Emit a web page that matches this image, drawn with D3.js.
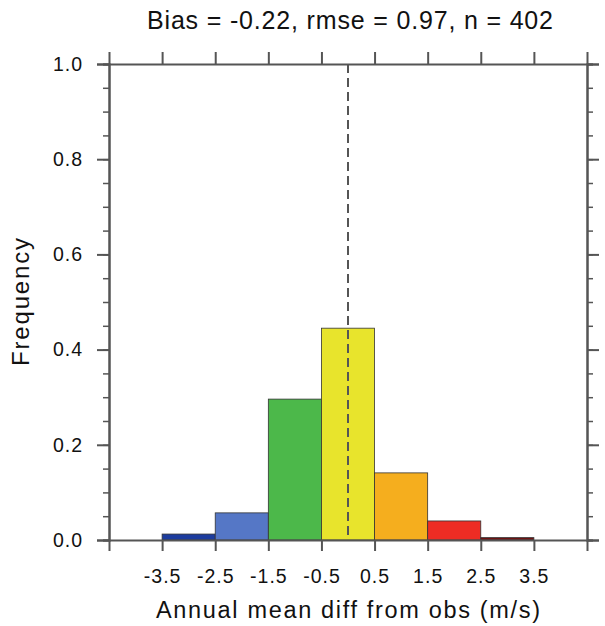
<!DOCTYPE html>
<html>
<head>
<meta charset="utf-8">
<script src="https://cdn.jsdelivr.net/npm/d3@7"></script>
<style>
  body { margin: 0; background: #fff; }
  text { font-family: "Liberation Sans", Arial, sans-serif; fill: #111; }
</style>
</head>
<body>
<svg id="chart" width="605" height="626"></svg>
<script>
// histogram bins (lower, upper edges) and relative frequency
const binLo = [-3.5, -2.5, -1.5, -0.5, 0.5, 1.5, 2.5];
const binHi = [-2.5, -1.5, -0.5, 0.5, 1.5, 2.5, 3.5];
const freq = [0.0125, 0.057, 0.296, 0.445, 0.141, 0.04, 0.005];
const binColors = ["#1c3c9e", "#5577c6", "#4cb84a", "#e8e42c", "#f5ae1e", "#ee2c24", "#6e1212"];

const xTicks = [-3.5, -2.5, -1.5, -0.5, 0.5, 1.5, 2.5, 3.5];
const yTicks = [0, 0.2, 0.4, 0.6, 0.8, 1.0];
const refLine = 0;

const title = "Bias = -0.22, rmse = 0.97, n = 402";
const xTitle = "Annual mean diff from obs (m/s)";
const yTitle = "Frequency";

const margin = { top: 64, right: 18, bottom: 86, left: 109 };
const W = 605, H = 626;
const svg = d3.select("#chart");

const x = d3.scaleLinear().domain([-4.5, 4.5]).range([margin.left, W - margin.right]);
const y = d3.scaleLinear().domain([0, 1]).range([H - margin.bottom, margin.top]);

const axisColor = "#555";
const fmt = d => d3.format(".1f")(d).replace("−", "-");

// bars
svg.append("g").selectAll("rect")
  .data(freq)
  .join("rect")
  .attr("x", (d, i) => x(binLo[i]))
  .attr("width", (d, i) => x(binHi[i]) - x(binLo[i]))
  .attr("y", d => y(d))
  .attr("height", d => y(0) - y(d))
  .attr("fill", (d, i) => binColors[i])
  .attr("stroke", "#333")
  .attr("stroke-width", 0.8);

// dashed reference line
svg.append("line")
  .attr("x1", x(refLine)).attr("x2", x(refLine))
  .attr("y1", y(1)).attr("y2", y(0))
  .attr("stroke", "#555")
  .attr("stroke-width", 2)
  .attr("stroke-dasharray", "9,5");

// axes
const minorY = d3.range(0, 1.0001, 0.05);

const leftAx = svg.append("g").attr("transform", `translate(${x(-4.5)},0)`)
  .call(d3.axisLeft(y).tickValues(yTicks).tickFormat(fmt).tickSize(12).tickPadding(14));
const leftMinor = svg.append("g").attr("transform", `translate(${x(-4.5)},0)`)
  .call(d3.axisLeft(y).tickValues(minorY).tickFormat("").tickSize(6));
const rightAx = svg.append("g").attr("transform", `translate(${x(4.5)},0)`)
  .call(d3.axisRight(y).tickValues(yTicks).tickFormat("").tickSize(12));
const rightMinor = svg.append("g").attr("transform", `translate(${x(4.5)},0)`)
  .call(d3.axisRight(y).tickValues(minorY).tickFormat("").tickSize(6));
const bottomAx = svg.append("g").attr("transform", `translate(0,${y(0)})`)
  .call(d3.axisBottom(x).tickValues(xTicks).tickFormat(fmt).tickSize(11).tickPadding(18));
const topAx = svg.append("g").attr("transform", `translate(0,${y(1)})`)
  .call(d3.axisTop(x).tickValues(xTicks).tickFormat("").tickSize(12));

[leftAx, leftMinor, rightAx, rightMinor, bottomAx, topAx].forEach(g => {
  g.selectAll("path.domain").attr("stroke", axisColor).attr("stroke-width", 2);
  g.selectAll(".tick line").attr("stroke", axisColor).attr("stroke-width", 1.5);
  g.selectAll(".tick text").style("font-size", "19.5px").attr("fill", "#111")
    .style("letter-spacing", "1px")
    .style("font-family", '"Liberation Sans", Arial, sans-serif');
});
[leftAx, rightAx, bottomAx, topAx].forEach(g => g.selectAll(".tick line").attr("stroke-width", 2));

// titles
svg.append("text")
  .attr("x", 350)
  .attr("y", 29)
  .attr("text-anchor", "middle")
  .attr("textLength", 406)
  .attr("lengthAdjust", "spacing")
  .style("font-size", "25px")
  .text(title);

svg.append("text")
  .attr("x", 348)
  .attr("y", 618)
  .attr("text-anchor", "middle")
  .attr("textLength", 384)
  .attr("lengthAdjust", "spacing")
  .style("font-size", "23.5px")
  .text(xTitle);

svg.append("text")
  .attr("transform", `translate(29,${(y(0) + y(1)) / 2}) rotate(-90)`)
  .attr("text-anchor", "middle")
  .attr("textLength", 128)
  .attr("lengthAdjust", "spacing")
  .style("font-size", "24px")
  .text(yTitle);
</script>
</body>
</html>
